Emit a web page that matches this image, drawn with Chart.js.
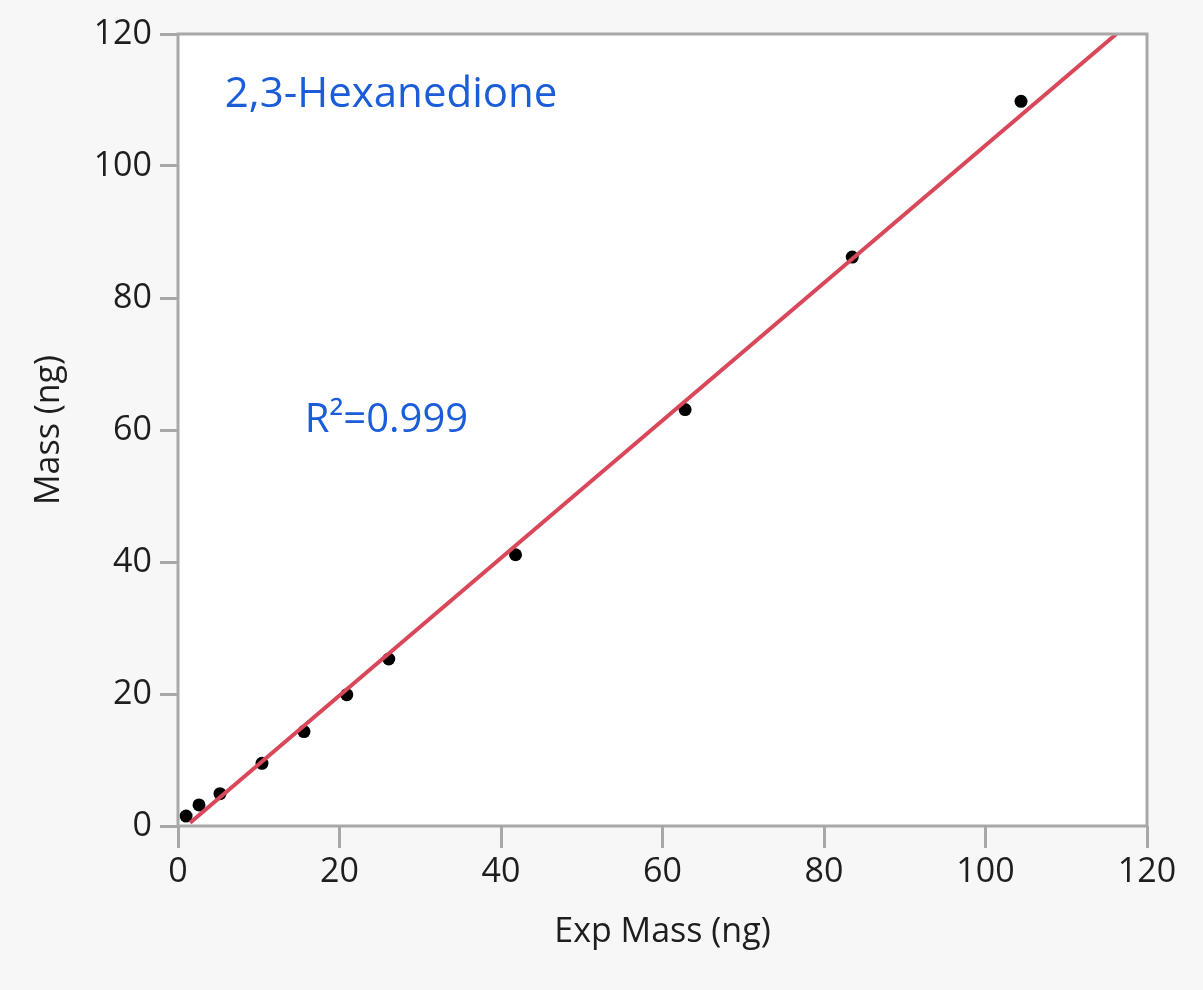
<!DOCTYPE html>
<html>
<head>
<meta charset="utf-8">
<script src="https://cdn.jsdelivr.net/npm/chart.js@4/dist/chart.umd.min.js"></script>
<style>
  html, body { margin: 0; padding: 0; background: #f7f7f7; }
  #chart { display: block; }
</style>
</head>
<body>
<canvas id="chart" width="1203" height="990"></canvas>
<script>
// measured values (ng)
const expMass = [1.0, 2.6, 5.2, 10.4, 15.6, 20.9, 26.1, 41.8, 62.8, 83.5, 104.4];
const mass    = [1.5, 3.2, 4.9, 9.5, 14.3, 19.9, 25.3, 41.1, 63.1, 86.2, 109.8];

// fitted line end points
const fitX = [1.5, 116.2];
const fitY = [0.5, 120];

const xTicks = [0, 20, 40, 60, 80, 100, 120];
const yTicks = [0, 20, 40, 60, 80, 100, 120];

const compoundName = '2,3-Hexanedione';
const rSquared = 'R\u00B2=0.999';

const AXIS_GREY = '#a8a8a8';
const TEXT_DARK = '#1e1e1e';
const LABEL_BLUE = '#1b5dd8';
const FONT = "'Open Sans', 'Noto Sans', sans-serif";

const plotFrame = {
  id: 'plotFrame',
  beforeDraw(chart) {
    const { ctx, chartArea: a } = chart;
    ctx.save();
    ctx.fillStyle = '#ffffff';
    ctx.fillRect(a.left, a.top, a.right - a.left, a.bottom - a.top);
    ctx.restore();
  },
  afterDatasetsDraw(chart) {
    const { ctx, chartArea: a, scales } = chart;
    ctx.save();
    ctx.strokeStyle = AXIS_GREY;
    ctx.lineWidth = 3;
    ctx.strokeRect(a.left, a.top, a.right - a.left, a.bottom - a.top);

    ctx.fillStyle = LABEL_BLUE;
    ctx.textAlign = 'left';
    ctx.textBaseline = 'middle';
    ctx.font = '42px ' + FONT;
    ctx.fillText(compoundName, scales.x.getPixelForValue(5.8), scales.y.getPixelForValue(110.8));
    ctx.font = '40px ' + FONT;
    ctx.fillText(rSquared, scales.x.getPixelForValue(15.7), scales.y.getPixelForValue(61.4));
    ctx.restore();
  }
};

new Chart(document.getElementById('chart').getContext('2d'), {
  type: 'scatter',
  data: {
    datasets: [
      {
        label: 'Fit',
        data: fitX.map((x, i) => ({ x, y: fitY[i] })),
        showLine: true,
        borderColor: '#d8475a',
        borderWidth: 4,
        pointRadius: 0,
        fill: false
      },
      {
        label: 'Mass',
        data: expMass.map((x, i) => ({ x, y: mass[i] })),
        backgroundColor: '#000000',
        borderColor: '#000000',
        pointRadius: 6.5,
        borderWidth: 0
      }
    ]
  },
  options: {
    responsive: false,
    animation: false,
    events: [],
    layout: { padding: { top: 34, right: 56, left: 0, bottom: 0 } },
    plugins: {
      legend: { display: false },
      tooltip: { enabled: false }
    },
    scales: {
      x: {
        type: 'linear',
        min: 0,
        max: 120,
        afterFit: s => { s.height = 164; },
        afterBuildTicks: s => { s.ticks = xTicks.map(v => ({ value: v })); },
        border: { display: false },
        grid: { drawOnChartArea: false, drawTicks: true, tickLength: 22, color: AXIS_GREY, lineWidth: 3 },
        ticks: { color: TEXT_DARK, font: { family: FONT, size: 34 }, padding: 4, maxRotation: 0 },
        title: {
          display: true,
          text: 'Exp Mass (ng)',
          color: TEXT_DARK,
          font: { family: FONT, size: 34 },
          padding: { top: 0, bottom: 37 }
        }
      },
      y: {
        type: 'linear',
        min: 0,
        max: 120,
        afterFit: s => { s.width = 178; },
        afterBuildTicks: s => { s.ticks = yTicks.map(v => ({ value: v })); },
        border: { display: false },
        grid: { drawOnChartArea: false, drawTicks: true, tickLength: 18, color: AXIS_GREY, lineWidth: 3 },
        ticks: { color: TEXT_DARK, font: { family: FONT, size: 34 }, padding: 8 },
        title: {
          display: true,
          text: 'Mass (ng)',
          color: TEXT_DARK,
          font: { family: FONT, size: 34 },
          padding: { top: 29, bottom: 0 }
        }
      }
    }
  },
  plugins: [plotFrame]
});
</script>
</body>
</html>
